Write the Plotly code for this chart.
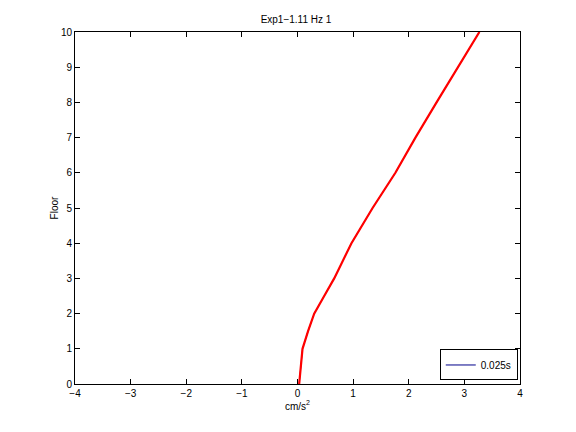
import plotly.graph_objects as go

floors = [0, 1, 1.5, 2, 2.5, 3, 4, 5, 6, 7, 8, 9, 10]
accel = [0.03, 0.09, 0.19, 0.30, 0.48, 0.66, 0.97, 1.35, 1.76, 2.12, 2.5, 2.88, 3.27]
legend_label = "0.025s"

fig = go.Figure()
fig.add_trace(go.Scatter(x=accel, y=floors, mode="lines", name=legend_label,
                         line=dict(color="#00008b", width=1), showlegend=True))
fig.add_trace(go.Scatter(x=accel, y=floors, mode="lines", showlegend=False,
                         line=dict(color="#ff0000", width=2.2)))

axis_common = dict(showline=True, linecolor="black", linewidth=1, mirror="ticks",
                   ticks="inside", ticklen=5, tickcolor="black", showgrid=False,
                   zeroline=False, tickfont=dict(size=10, color="black"))
fig.update_layout(
    width=576, height=432,
    margin=dict(l=67, r=64, t=24, b=56),
    paper_bgcolor="white", plot_bgcolor="white",
    font=dict(family="Liberation Sans, Arial, sans-serif", size=10, color="black"),
    title=dict(text="Exp1\u22121.11 Hz 1", x=0.5, xanchor="center", y=0.965,
               yanchor="bottom", font=dict(size=10)),
    xaxis=dict(range=[-4, 4], tickvals=[-4, -3, -2, -1, 0, 1, 2, 3, 4],
               ticktext=["\u22124", "\u22123", "\u22122", "\u22121", "0", "1", "2", "3", "4"],
               title=dict(text="cm/s<sup>2</sup>", standoff=4, font=dict(size=10)),
               **axis_common),
    yaxis=dict(range=[0, 10], tickvals=list(range(0, 11)),
               title=dict(text="Floor", standoff=0, font=dict(size=10)),
               **axis_common),
    legend=dict(x=0.995, y=0.01, xanchor="right", yanchor="bottom",
                bordercolor="black", borderwidth=1, bgcolor="white",
                font=dict(size=10), itemwidth=30, tracegroupgap=0),
)
fig.write_html("out.html")
